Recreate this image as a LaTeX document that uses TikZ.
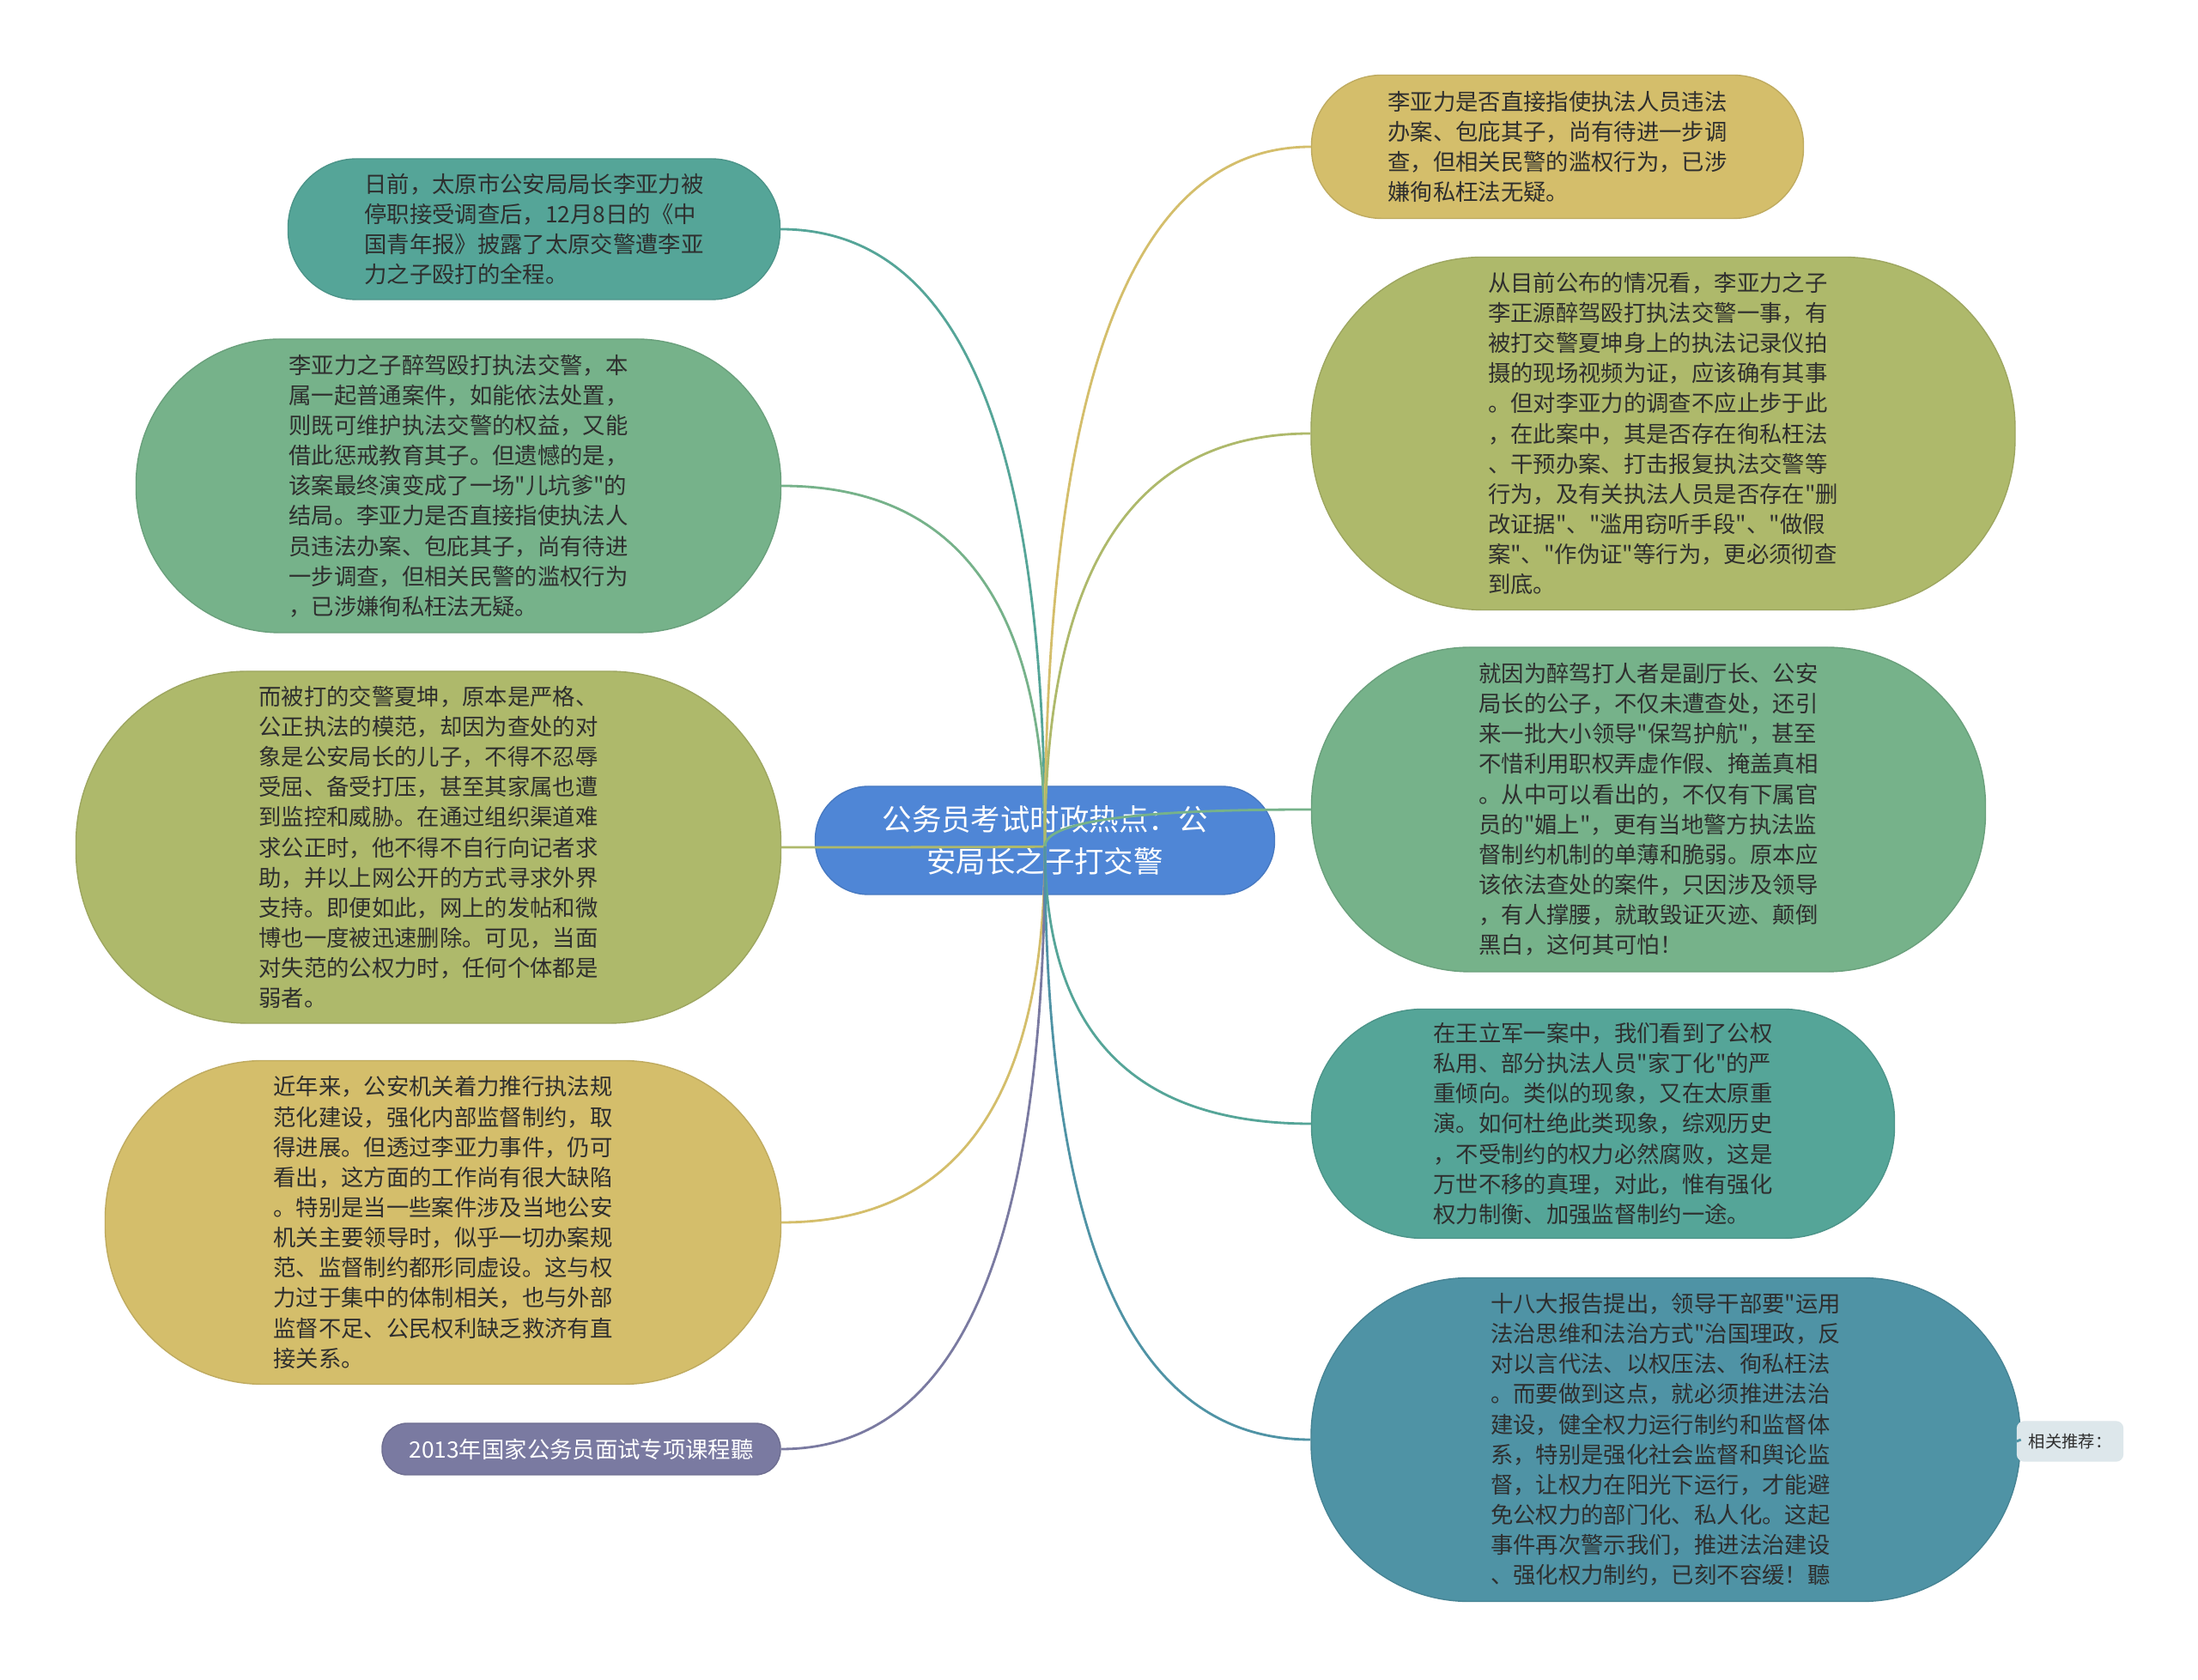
\documentclass[tikz,border=0pt]{standalone}
\usepackage{fontspec}
\usepackage{xcolor}
\usepackage{tikz}
\usetikzlibrary{positioning,calc}
\newfontfamily\cjk{Noto Sans CJK SC}
\definecolor{hubblue}{HTML}{4F86D6}
\definecolor{tealc}{HTML}{55A598}
\definecolor{greenc}{HTML}{76B28A}
\definecolor{olivec}{HTML}{AEB96B}
\definecolor{goldc}{HTML}{D4BE6B}
\definecolor{purplec}{HTML}{7A7AA1}
\definecolor{bluec}{HTML}{4F93A5}
\definecolor{recc}{HTML}{DDE7EB}

\begin{document}
\begin{tikzpicture}[
  topic/.style={
    draw=#1!90!black, fill=#1, line width=0.4pt, inner sep=0pt,
    align=left, text=black!82, font=\cjk\fontsize{7.5}{10}\selectfont
  },
  hubbox/.style={
    draw=hubblue!90!black, fill=hubblue, line width=0.4pt, align=center,
    inner sep=0pt, text=white, font=\cjk\fontsize{9.8}{13.9}\selectfont
  },
  link/.style={draw=#1, line width=0.8pt}
]
\path[use as bounding box, fill=white] (0,0) rectangle (25.6,19.57);

\node[hubbox, minimum width=5.35cm, minimum height=1.26cm, rounded corners=0.62cm]
  (root) at (12.17,9.78) {公务员考试时政热点：公\\安局长之子打交警};
\coordinate (hub) at ([yshift=-0.07cm]root.center);

\node[topic=tealc, minimum width=5.73cm, minimum height=1.64cm, rounded corners=0.8cm]
  (L1) at (6.22,16.90)
  {日前，太原市公安局局长李亚力被\\停职接受调查后，12月8日的《中\\国青年报》披露了太原交警遭李亚\\力之子殴打的全程。};
\node[topic=greenc, minimum width=7.51cm, minimum height=3.42cm, rounded corners=1.68cm]
  (L2) at (5.34,13.91)
  {李亚力之子醉驾殴打执法交警，本\\属一起普通案件，如能依法处置，\\则既可维护执法交警的权益，又能\\借此惩戒教育其子。但遗憾的是，\\该案最终演变成了一场"儿坑爹"的\\结局。李亚力是否直接指使执法人\\员违法办案、包庇其子，尚有待进\\一步调查，但相关民警的滥权行为\\，已涉嫌徇私枉法无疑。};
\node[topic=olivec, minimum width=8.21cm, minimum height=4.10cm, rounded corners=2.0cm]
  (L3) at (4.99,9.70)
  {而被打的交警夏坤，原本是严格、\\公正执法的模范，却因为查处的对\\象是公安局长的儿子，不得不忍辱\\受屈、备受打压，甚至其家属也遭\\到监控和威胁。在通过组织渠道难\\求公正时，他不得不自行向记者求\\助，并以上网公开的方式寻求外界\\支持。即便如此，网上的发帖和微\\博也一度被迅速删除。可见，当面\\对失范的公权力时，任何个体都是\\弱者。};
\node[topic=goldc, minimum width=7.87cm, minimum height=3.77cm, rounded corners=1.84cm]
  (L4) at (5.16,5.33)
  {近年来，公安机关着力推行执法规\\范化建设，强化内部监督制约，取\\得进展。但透过李亚力事件，仍可\\看出，这方面的工作尚有很大缺陷\\。特别是当一些案件涉及当地公安\\机关主要领导时，似乎一切办案规\\范、监督制约都形同虚设。这与权\\力过于集中的体制相关，也与外部\\监督不足、公民权利缺乏救济有直\\接关系。};
\node[topic=purplec, minimum width=4.64cm, minimum height=0.60cm, rounded corners=0.29cm,
      text=white] (L5) at (6.77,2.69)
  {2013年国家公务员面试专项课程聽};

\node[topic=goldc, minimum width=5.73cm, minimum height=1.67cm, rounded corners=0.82cm]
  (R1) at (18.14,17.86)
  {李亚力是否直接指使执法人员违法\\办案、包庇其子，尚有待进一步调\\查，但相关民警的滥权行为，已涉\\嫌徇私枉法无疑。};
\node[topic=olivec, minimum width=8.20cm, minimum height=4.11cm, rounded corners=2.0cm]
  (R2) at (19.37,14.52)
  {从目前公布的情况看，李亚力之子\\李正源醉驾殴打执法交警一事，有\\被打交警夏坤身上的执法记录仪拍\\摄的现场视频为证，应该确有其事\\。但对李亚力的调查不应止步于此\\，在此案中，其是否存在徇私枉法\\、干预办案、打击报复执法交警等\\行为，及有关执法人员是否存在"删\\改证据"、"滥用窃听手段"、"做假\\案"、"作伪证"等行为，更必须彻查\\到底。};
\node[topic=greenc, minimum width=7.85cm, minimum height=3.78cm, rounded corners=1.85cm]
  (R3) at (19.20,10.14)
  {就因为醉驾打人者是副厅长、公安\\局长的公子，不仅未遭查处，还引\\来一批大小领导"保驾护航"，甚至\\不惜利用职权弄虚作假、掩盖真相\\。从中可以看出的，不仅有下属官\\员的"媚上"，更有当地警方执法监\\督制约机制的单薄和脆弱。原本应\\该依法查处的案件，只因涉及领导\\，有人撑腰，就敢毁证灭迹、颠倒\\黑白，这何其可怕！};
\node[topic=tealc, minimum width=6.79cm, minimum height=2.67cm, rounded corners=1.3cm]
  (R4) at (18.67,6.48)
  {在王立军一案中，我们看到了公权\\私用、部分执法人员"家丁化"的严\\重倾向。类似的现象，又在太原重\\演。如何杜绝此类现象，综观历史\\，不受制约的权力必然腐败，这是\\万世不移的真理，对此，惟有强化\\权力制衡、加强监督制约一途。};
\node[topic=bluec, minimum width=8.26cm, minimum height=3.77cm, rounded corners=1.84cm]
  (R5) at (19.40,2.80)
  {十八大报告提出，领导干部要"运用\\法治思维和法治方式"治国理政，反\\对以言代法、以权压法、徇私枉法\\。而要做到这点，就必须推进法治\\建设，健全权力运行制约和监督体\\系，特别是强化社会监督和舆论监\\督，让权力在阳光下运行，才能避\\免公权力的部门化、私人化。这起\\事件再次警示我们，推进法治建设\\、强化权力制约，已刻不容缓！聽};
\node[topic=recc, draw=recc, minimum width=1.23cm, minimum height=0.46cm,
      rounded corners=0.08cm, font=\cjk\fontsize{5.5}{7}\selectfont]
  (rec) at (24.11,2.78) {相关推荐：};

\draw[link=tealc] (hub) .. controls ($(hub)!0.67!(hub |- L1.east)$)
  and ($(L1.east)!0.67!(hub |- L1.east)$) .. (L1.east);
\draw[link=greenc] (hub) .. controls ($(hub)!0.67!(hub |- L2.east)$)
  and ($(L2.east)!0.67!(hub |- L2.east)$) .. (L2.east);
\draw[link=olivec] (hub) .. controls ($(hub)!0.67!(hub |- L3.east)$)
  and ($(L3.east)!0.67!(hub |- L3.east)$) .. (L3.east);
\draw[link=goldc] (hub) .. controls ($(hub)!0.67!(hub |- L4.east)$)
  and ($(L4.east)!0.67!(hub |- L4.east)$) .. (L4.east);
\draw[link=purplec] (hub) .. controls ($(hub)!0.67!(hub |- L5.east)$)
  and ($(L5.east)!0.67!(hub |- L5.east)$) .. (L5.east);
\draw[link=goldc] (hub) .. controls ($(hub)!0.67!(hub |- R1.west)$)
  and ($(R1.west)!0.67!(hub |- R1.west)$) .. (R1.west);
\draw[link=olivec] (hub) .. controls ($(hub)!0.67!(hub |- R2.west)$)
  and ($(R2.west)!0.67!(hub |- R2.west)$) .. (R2.west);
\draw[link=greenc] (hub) .. controls ($(hub)!0.67!(hub |- R3.west)$)
  and ($(R3.west)!0.67!(hub |- R3.west)$) .. (R3.west);
\draw[link=tealc] (hub) .. controls ($(hub)!0.67!(hub |- R4.west)$)
  and ($(R4.west)!0.67!(hub |- R4.west)$) .. (R4.west);
\draw[link=bluec] (hub) .. controls ($(hub)!0.67!(hub |- R5.west)$)
  and ($(R5.west)!0.67!(hub |- R5.west)$) .. (R5.west);
\draw[link=bluec] (R5.east) -- (rec.west);
\end{tikzpicture}
\end{document}
